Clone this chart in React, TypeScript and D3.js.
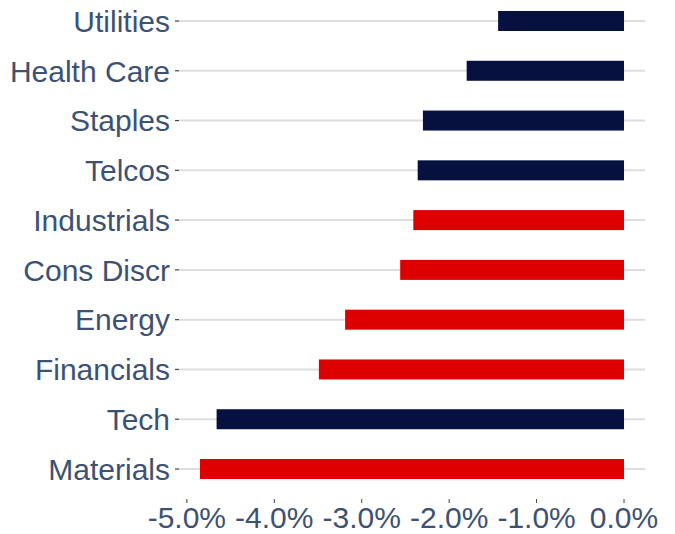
import React from "react";
import * as d3 from "d3";

const categories = ["Utilities", "Health Care", "Staples", "Telcos", "Industrials", "Cons Discr", "Energy", "Financials", "Tech", "Materials"];
const values = [-1.44, -1.8, -2.3, -2.36, -2.41, -2.56, -3.19, -3.49, -4.66, -4.85];
const groups = ["navy", "navy", "navy", "navy", "red", "red", "red", "red", "navy", "red"];
const xTicks = [-5, -4, -3, -2, -1, 0];

const colorMap: Record<string, string> = { navy: "#06113f", red: "#dd0000" };
const textColor = "#3d5272";
const font = "'Liberation Sans', Arial, sans-serif";

export default function App() {
  const W = 675, H = 534;
  const x = d3.scaleLinear().domain([-5.09, 0.24]).range([179, 645]);
  const y = d3.scaleBand().domain(categories).range([-3.9, 493.9]).paddingInner(0.6).paddingOuter(0.3);
  const bw = 20;
  const fmt = (t: number) => t.toFixed(1).replace("\u2212", "-") + "%";
  return (
    <svg width={W} height={H} style={{ position: "absolute", left: 0, top: 0 }} fontFamily={font}>
      {categories.map((c) => {
        const cy = y(c)! + y.bandwidth() / 2;
        return (
          <g key={c}>
            <line x1={179} x2={645} y1={cy} y2={cy} stroke="#dedede" strokeWidth={2} />
            <line x1={175} x2={179} y1={cy} y2={cy} stroke="#444" strokeWidth={1.2} />
            <text x={170} y={cy} dy="0.36em" textAnchor="end" fontSize={30} fill={textColor}>{c}</text>
          </g>
        );
      })}
      {categories.map((c, i) => {
        const cy = y(c)! + y.bandwidth() / 2;
        const v = values[i];
        return (
          <rect key={c} x={x(v)} y={cy - bw / 2} width={x(0) - x(v)} height={bw} fill={colorMap[groups[i]]} />
        );
      })}
      {xTicks.map((t) => (
        <g key={t}>
          <line x1={x(t)} x2={x(t)} y1={499} y2={503} stroke="#444" strokeWidth={1} />
          <text x={x(t)} y={528} textAnchor="middle" fontSize={30} fill={textColor}>{fmt(t)}</text>
        </g>
      ))}
    </svg>
  );
}
